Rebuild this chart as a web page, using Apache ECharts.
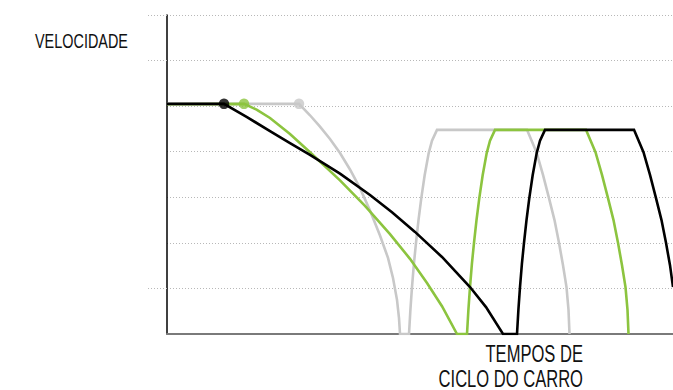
<!DOCTYPE html>
<html>
<head>
<meta charset="utf-8">
<script src="https://cdn.jsdelivr.net/npm/echarts@6/dist/echarts.min.js"></script>
<style>
html,body{margin:0;padding:0;background:#fff;}
#c{width:673px;height:390px;}
</style>
</head>
<body>
<div id="c"></div>
<script>
// Eixo Y: velocidade (0–7), eixo X: tempo (0–506)
var yTicks = [0, 1, 2, 3, 4, 5, 6, 7];
var yTickMarks = [1, 6, 7];
var yAxisTitle = 'VELOCIDADE';
var xAxisTitle = 'TEMPOS DE\nCICLO DO CARRO';

var blackLine = [[0,5.05],[57,5.05],[80,4.76],[103,4.45],[123,4.19],[143,3.93],[173,3.52],[203,3.05],[225,2.67],[248,2.24],[275,1.69],[303,1.03],[319,0.59],[336,0],
  [350,0],[351.4,0.53],[353,1.03],[354.9,1.54],[357,2.00],[359.5,2.50],[362.3,2.98],[365.7,3.49],[369.7,3.97],[373,4.24],[378,4.48],
  [467,4.48],[476.5,3.99],[483,3.49],[489,2.98],[494.5,2.50],[499,2.00],[503,1.51],[506,1.03]];
var greenLine = [[0,5.04],[77,5.05],[90,4.92],[103,4.74],[123,4.39],[143,3.99],[173,3.37],[198,2.81],[223,2.19],[243,1.65],[260,1.12],[275,0.61],[290,0],
  [300,0],[301.4,0.53],[303,1.03],[304.9,1.54],[307,2.00],[309.5,2.50],[312.3,2.98],[315.7,3.49],[319.7,3.97],[323,4.24],[328,4.48],
  [419,4.48],[428.5,3.99],[435,3.49],[441,2.98],[446.5,2.50],[451,2.00],[455,1.51],[458.5,1.03],[460.5,0.53],[461.5,0]];
var grayLine = [[0,5.05],[132,5.05],[143,4.80],[153,4.55],[163,4.28],[173,3.97],[183,3.61],[193,3.20],[203,2.71],[213,2.16],[221,1.67],[226,1.23],[230,0.75],[232,0.35],[233,0],
  [242,0],[243.4,0.53],[245,1.03],[246.9,1.54],[249,2.00],[251.5,2.50],[254.3,2.98],[257.7,3.49],[261.7,3.97],[265,4.24],[270,4.48],
  [360,4.48],[369.5,3.99],[376,3.49],[382,2.98],[387.5,2.50],[392,2.00],[396,1.51],[399.5,1.03],[401.5,0.53],[402.5,0]];
var blackKnee = [[57,5.05]];
var greenKnee = [[77,5.05]];
var grayKnee = [[132,5.05]];

var chart = echarts.init(document.getElementById('c'), null, {renderer:'svg'});
var font = '"Liberation Sans",Arial,Helvetica,sans-serif';
var gridColor = '#b8b8b8';
function lineSeries(data, color){
  return {type:'line', data:data, symbol:'none', smooth:false, animation:false,
    lineStyle:{color:color, width:2.6, join:'miter'}, z:2};
}
function kneeSeries(data, color){
  return {type:'scatter', data:data, symbol:'circle', symbolSize:10.5, animation:false,
    itemStyle:{color:color}, z:5};
}
chart.setOption({
  animation:false,
  backgroundColor:'#fff',
  grid:{left:167, right:0, top:15, bottom:56, containLabel:false},
  xAxis:{type:'value', min:0, max:506, axisLabel:{show:false}, axisTick:{show:false},
    splitLine:{show:false},
    axisLine:{show:true, onZero:false, lineStyle:{color:'#7a7a7a', width:2}}},
  yAxis:[
    {type:'value', min:yTicks[0], max:yTicks[yTicks.length-1], interval:1, position:'left',
      axisLabel:{show:false}, axisTick:{show:false},
      axisLine:{show:true, lineStyle:{color:'#000', width:1.5}},
      splitLine:{show:true, lineStyle:{color:gridColor, width:1, type:[1,2]}}},
    {type:'value', min:yTicks[0], max:yTicks[yTicks.length-1], interval:1, position:'left', offset:0,
      axisLabel:{show:false}, axisLine:{show:false}, splitLine:{show:false},
      axisTick:{show:true, customValues:yTickMarks, length:19, lineStyle:{color:gridColor, width:1, type:[1,2]}}}
  ],
  graphic:[
    {type:'text', x:35, y:31.5, scaleX:0.74, z:10,
      style:{text:yAxisTitle, font:'19.5px '+font, fill:'#111', align:'left', verticalAlign:'top', lineHeight:19.5}},
    {type:'text', x:583, y:341, scaleX:0.72, z:10,
      style:{text:xAxisTitle, font:'23px '+font, fill:'#111', align:'right', verticalAlign:'top', lineHeight:25}}
  ],
  series:[
    lineSeries(grayLine, '#c8c8c8'),
    lineSeries(greenLine, '#8cc43f'),
    lineSeries(blackLine, '#000000'),
    kneeSeries(grayKnee, '#c8c8c8'),
    kneeSeries(greenKnee, '#8cc43f'),
    kneeSeries(blackKnee, '#000000')
  ]
});
</script>
</body>
</html>
